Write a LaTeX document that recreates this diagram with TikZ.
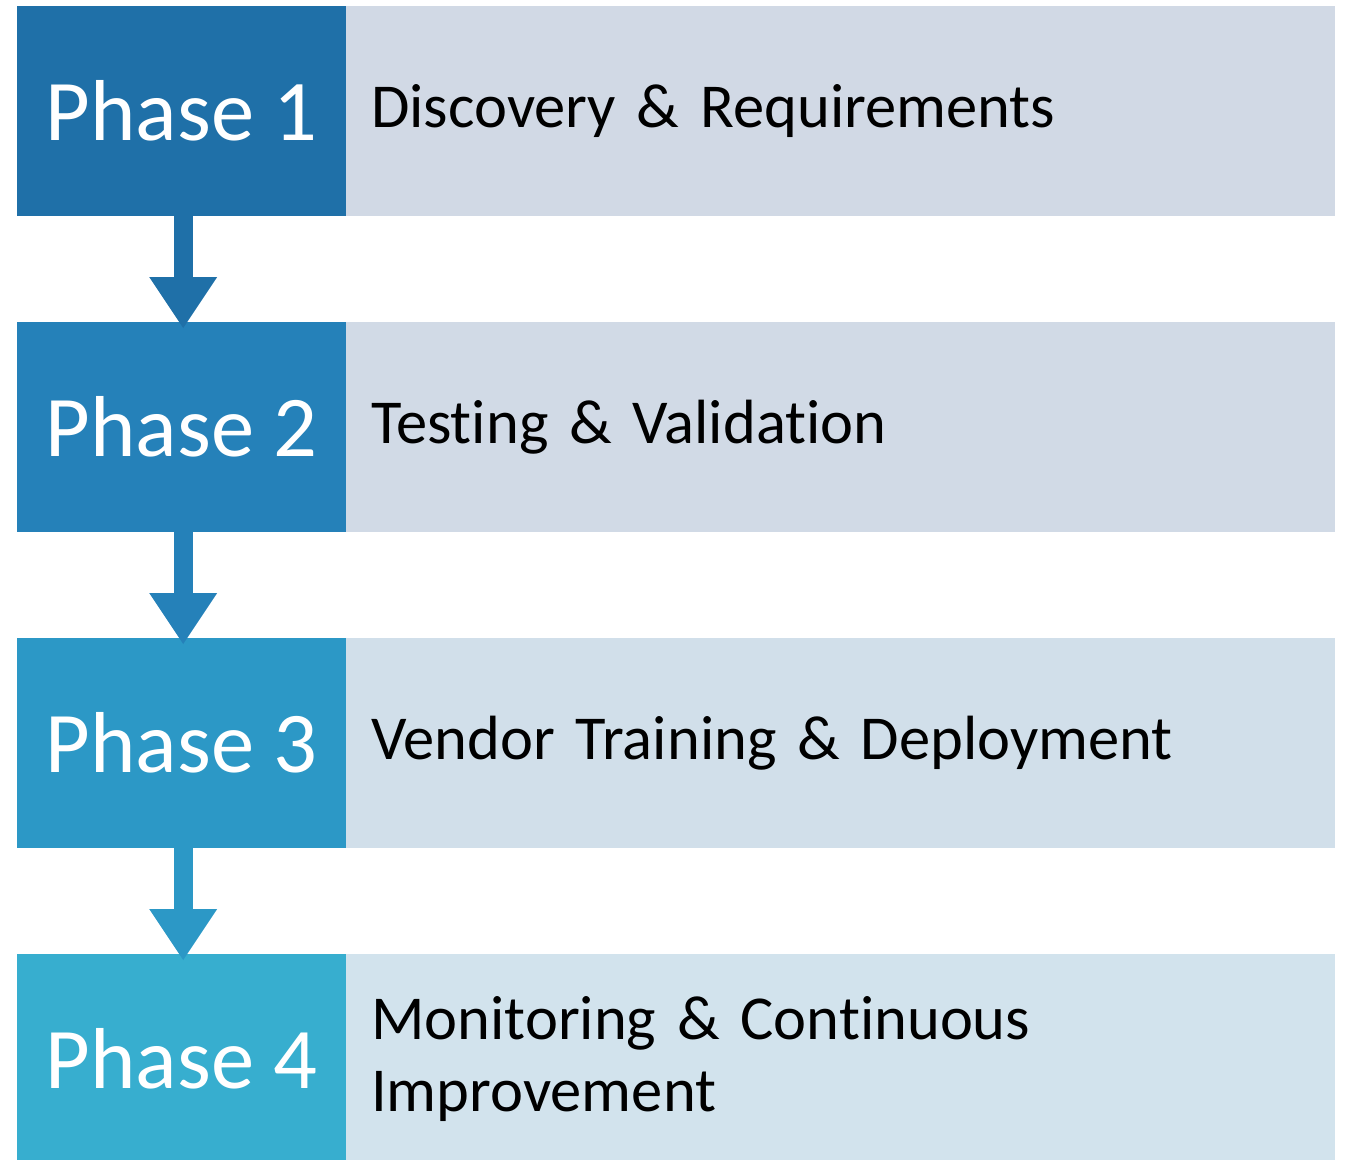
\documentclass[tikz,border=0pt]{standalone}
\usepackage{fontspec}
\setmainfont{Carlito}[Ligatures={NoCommon}]
\usetikzlibrary{arrows.meta}
\definecolor{ph1}{HTML}{1F70A8}
\definecolor{ph2}{HTML}{2581B9}
\definecolor{ph3}{HTML}{2C98C6}
\definecolor{ph4}{HTML}{37AECF}
\definecolor{lt1}{HTML}{D1D9E5}
\definecolor{lt2}{HTML}{D1DAE6}
\definecolor{lt3}{HTML}{D1DFEA}
\definecolor{lt4}{HTML}{D2E3ED}
\newcommand{\mydescfont}{\fontsize{62.5}{72}\selectfont\setlength{\spaceskip}{10pt}}
\newcommand{\myphasefont}{\fontsize{86.5}{88}\selectfont}
\begin{document}
\begin{tikzpicture}[x=1pt,y=-1pt,
  phasebox/.style={anchor=north west, minimum width=329pt, minimum height=210pt, inner sep=0pt, text=white, font=\myphasefont},
  descbox/.style={anchor=north west, minimum width=989pt, minimum height=210pt, inner xsep=25pt, inner ysep=0pt, text width=939pt, align=left, text=black, font=\mydescfont},
  flowarrow/.style={line width=19pt, -{Triangle[width=68pt,length=51pt,line width=0pt]}, shorten >=-6pt}
]
\useasboundingbox (0,0) rectangle (1345,1160);
\node[phasebox, fill=ph1] (p1) at (17,6) {Phase 1};
\node[phasebox, fill=ph2] (p2) at (17,322) {Phase 2};
\node[phasebox, fill=ph3] (p3) at (17,638) {Phase 3};
\node[phasebox, fill=ph4] (p4) at (17,954) {Phase 4};
\node[descbox, fill=lt1] (d1) at (346,6) {Discovery \& Requirements};
\node[descbox, fill=lt2] (d2) at (346,322) {Testing \& Validation};
\node[descbox, fill=lt3] (d3) at (346,638) {Vendor Training \& Deployment};
\node[descbox, fill=lt4] (d4) at (346,954) {Monitoring \& Continuous\\Improvement};
\draw[flowarrow, ph1] ([xshift=1.5pt]p1.south) -- ([xshift=1.5pt]p2.north);
\draw[flowarrow, ph2] ([xshift=1.5pt]p2.south) -- ([xshift=1.5pt]p3.north);
\draw[flowarrow, ph3] ([xshift=1.5pt]p3.south) -- ([xshift=1.5pt]p4.north);
\end{tikzpicture}
\end{document}
